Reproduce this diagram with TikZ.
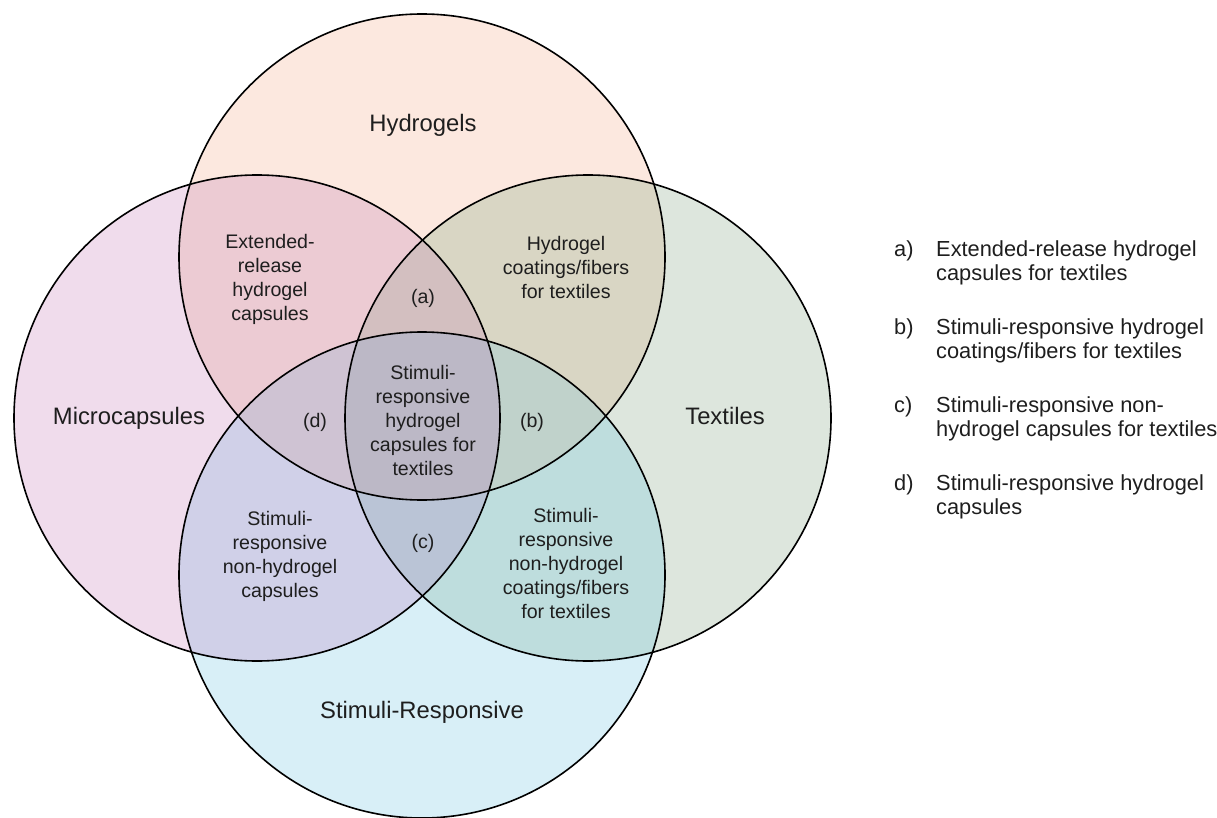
\documentclass[tikz,border=0pt]{standalone}
\usepackage{fontspec}
\setmainfont{Liberation Sans}
% base set colours
\definecolor{hyd}{HTML}{FCE8DF}
\definecolor{mic}{HTML}{F0DCEC}
\definecolor{tex}{HTML}{DDE6DD}
\definecolor{sti}{HTML}{D8EFF7}
% pairwise overlaps
\definecolor{hydmic}{HTML}{ECCBD3}
\definecolor{hydtex}{HTML}{D9D6C4}
\definecolor{micsti}{HTML}{D0D0E8}
\definecolor{texsti}{HTML}{BEDDDD}
% triple overlaps
\definecolor{hmt}{HTML}{D3BFC0}
\definecolor{hms}{HTML}{CFC3D3}
\definecolor{hts}{HTML}{C0D2CB}
\definecolor{mts}{HTML}{BAC4D6}
% all four sets
\definecolor{allfour}{HTML}{BCB8C6}
\definecolor{txt}{HTML}{1E1E1E}
\begin{document}
\begin{tikzpicture}[x=1pt,y=-1pt,
  ring/.style={draw=black,line width=1.6pt},
  setlabel/.style={text=txt,font=\fontsize{23.8}{28}\selectfont},
  regionlabel/.style={text=txt,align=center,inner sep=0pt,font=\fontsize{19.6}{24}\selectfont},
  legendtag/.style={text=txt,anchor=west,inner sep=0pt,font=\fontsize{21.8}{23.5}\selectfont},
  legendtext/.style={text=txt,anchor=west,align=left,inner sep=0pt,font=\fontsize{21.8}{23.5}\selectfont}]
\useasboundingbox (0,0) rectangle (1217,818);
\def\R{243pt}
\coordinate (cH) at (422,257);
\coordinate (cM) at (257,418);
\coordinate (cT) at (588,418);
\coordinate (cS) at (422,575);

% single sets
\fill[hyd] (cH) circle[radius=\R];
\fill[mic] (cM) circle[radius=\R];
\fill[tex] (cT) circle[radius=\R];
\fill[sti] (cS) circle[radius=\R];

% pairwise overlaps
\begin{scope}\clip (cH) circle[radius=\R]; \fill[hydmic] (cM) circle[radius=\R];\end{scope}
\begin{scope}\clip (cH) circle[radius=\R]; \fill[hydtex] (cT) circle[radius=\R];\end{scope}
\begin{scope}\clip (cM) circle[radius=\R]; \fill[micsti] (cS) circle[radius=\R];\end{scope}
\begin{scope}\clip (cT) circle[radius=\R]; \fill[texsti] (cS) circle[radius=\R];\end{scope}

% triple overlaps
\begin{scope}\clip (cH) circle[radius=\R]; \clip (cM) circle[radius=\R]; \fill[hmt] (cT) circle[radius=\R];\end{scope}
\begin{scope}\clip (cH) circle[radius=\R]; \clip (cM) circle[radius=\R]; \fill[hms] (cS) circle[radius=\R];\end{scope}
\begin{scope}\clip (cH) circle[radius=\R]; \clip (cT) circle[radius=\R]; \fill[hts] (cS) circle[radius=\R];\end{scope}
\begin{scope}\clip (cM) circle[radius=\R]; \clip (cT) circle[radius=\R]; \fill[mts] (cS) circle[radius=\R];\end{scope}

% centre
\begin{scope}\clip (cH) circle[radius=\R]; \clip (cM) circle[radius=\R]; \clip (cT) circle[radius=\R]; \fill[allfour] (cS) circle[radius=\R];\end{scope}

% outlines
\draw[ring] (cH) circle[radius=\R];
\draw[ring] (cM) circle[radius=\R];
\draw[ring] (cT) circle[radius=\R];
\draw[ring] (cS) circle[radius=\R];

% set names
\node[setlabel] (lH) at (423,125) {Hydrogels};
\node[setlabel] (lM) at (129,418) {Microcapsules};
\node[setlabel] (lT) at (725,416) {Textiles};
\node[setlabel] (lS) at (422,712) {Stimuli-Responsive};

% region texts
\node[regionlabel] (rHM) at (270,279) {Extended-\\release\\hydrogel\\capsules};
\node[regionlabel] (rHT) at (566,267) {Hydrogel\\coatings/fibers\\for textiles};
\node[regionlabel] (rA) at (423,298) {(a)};
\node[regionlabel] (rAll) at (423,420) {Stimuli-\\responsive\\hydrogel\\capsules for\\textiles};
\node[regionlabel] (rD) at (315,422) {(d)};
\node[regionlabel] (rB) at (532,422) {(b)};
\node[regionlabel] (rC) at (423,543) {(c)};
\node[regionlabel] (rMS) at (280,556) {Stimuli-\\responsive\\non-hydrogel\\capsules};
\node[regionlabel] (rTS) at (566,563) {Stimuli-\\responsive\\non-hydrogel\\coatings/fibers\\for textiles};

% legend
\node[legendtag] (ka) at (894,251) {a)};
\node[legendtext] (ta) at (936,262.75) {Extended-release hydrogel\\capsules for textiles};
\node[legendtag] (kb) at (894,329) {b)};
\node[legendtext] (tb) at (936,340.75) {Stimuli-responsive hydrogel\\coatings/fibers for textiles};
\node[legendtag] (kc) at (894,407) {c)};
\node[legendtext] (tc) at (936,418.75) {Stimuli-responsive non-\\hydrogel capsules for textiles};
\node[legendtag] (kd) at (894,485) {d)};
\node[legendtext] (td) at (936,496.75) {Stimuli-responsive hydrogel\\capsules};
\end{tikzpicture}
\end{document}
